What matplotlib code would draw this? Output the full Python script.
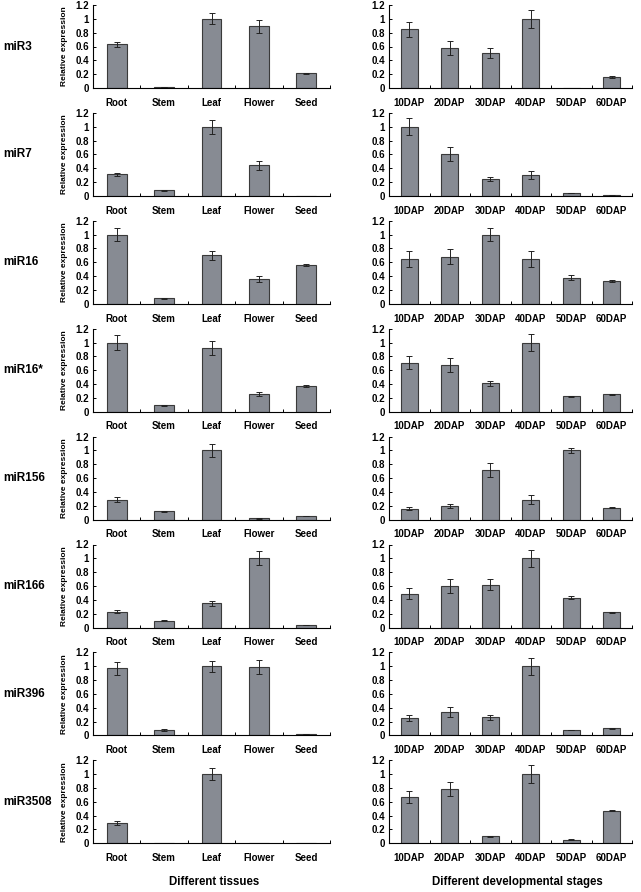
import numpy as np
import matplotlib
matplotlib.use("Agg")
import matplotlib.pyplot as plt

plt.rcParams['font.family'] = ['Liberation Sans', 'DejaVu Sans']
plt.rcParams['font.weight'] = 'bold'

genes = ['miR3', 'miR7', 'miR16', 'miR16*', 'miR156', 'miR166', 'miR396', 'miR3508']
tissues = ['Root', 'Stem', 'Leaf', 'Flower', 'Seed']
stages = ['10DAP', '20DAP', '30DAP', '40DAP', '50DAP', '60DAP']

# relative expression in tissues (mean, error)
tissue_vals = [
    [0.63, 0.01, 1.00, 0.89, 0.21],
    [0.31, 0.08, 1.00, 0.44, 0.003],
    [1.00, 0.08, 0.70, 0.36, 0.56],
    [1.00, 0.09, 0.92, 0.25, 0.37],
    [0.29, 0.12, 1.00, 0.02, 0.05],
    [0.23, 0.10, 0.35, 1.00, 0.04],
    [0.97, 0.08, 1.00, 0.99, 0.02],
    [0.29, 0.01, 1.00, 0.005, 0.01],
]
tissue_err = [
    [0.03, 0.0, 0.08, 0.10, 0.01],
    [0.02, 0.01, 0.10, 0.07, 0.0],
    [0.09, 0.01, 0.07, 0.04, 0.01],
    [0.11, 0.01, 0.10, 0.03, 0.01],
    [0.03, 0.01, 0.09, 0.005, 0.0],
    [0.02, 0.01, 0.04, 0.10, 0.0],
    [0.09, 0.01, 0.08, 0.10, 0.0],
    [0.03, 0.0, 0.09, 0.0, 0.0],
]

# relative expression at developmental stages (mean, error)
stage_vals = [
    [0.85, 0.58, 0.51, 1.00, 0.005, 0.16],
    [1.00, 0.60, 0.25, 0.30, 0.04, 0.01],
    [0.65, 0.68, 1.00, 0.65, 0.38, 0.33],
    [0.71, 0.67, 0.41, 1.00, 0.22, 0.25],
    [0.16, 0.20, 0.72, 0.29, 1.00, 0.17],
    [0.49, 0.60, 0.62, 1.00, 0.43, 0.22],
    [0.25, 0.34, 0.26, 1.00, 0.08, 0.10],
    [0.67, 0.79, 0.10, 1.00, 0.05, 0.47],
]
stage_err = [
    [0.11, 0.10, 0.07, 0.13, 0.0, 0.01],
    [0.12, 0.10, 0.03, 0.06, 0.005, 0.005],
    [0.12, 0.11, 0.09, 0.12, 0.04, 0.01],
    [0.09, 0.10, 0.04, 0.12, 0.01, 0.01],
    [0.02, 0.03, 0.10, 0.07, 0.04, 0.005],
    [0.08, 0.10, 0.08, 0.12, 0.02, 0.005],
    [0.04, 0.07, 0.04, 0.12, 0.005, 0.005],
    [0.09, 0.10, 0.01, 0.13, 0.005, 0.01],
]

W, H = 641, 892
fig = plt.figure(figsize=(W / 100, H / 100), dpi=100)

bar_color = '#878b93'
edge_color = '#3a3a3a'
yticks = [0, 0.2, 0.4, 0.6, 0.8, 1.0, 1.2]
ytick_labels = ['0', '0.2', '0.4', '0.6', '0.8', '1', '1.2']


def draw_panel(ax, cats, vals, errs, ylab):
    x = np.arange(len(cats))
    ax.bar(x, vals, width=0.42, color=bar_color, edgecolor=edge_color, linewidth=0.8,
           yerr=errs, error_kw=dict(ecolor='#222222', elinewidth=0.7, capsize=2, capthick=0.7))
    ax.set_xlim(-0.5, len(cats) - 0.5)
    ax.set_ylim(0, 1.2)
    ax.spines['top'].set_visible(False)
    ax.spines['right'].set_visible(False)
    ax.spines['left'].set_linewidth(0.8)
    ax.spines['bottom'].set_linewidth(0.8)
    ax.set_yticks(yticks)
    ax.set_yticklabels(ytick_labels, fontsize=7, fontweight='bold')
    ax.tick_params(axis='y', direction='in', length=2.5, width=0.7, pad=3)
    # category ticks sit between bars
    ax.set_xticks(np.arange(len(cats) + 1) - 0.5)
    ax.set_xticklabels([])
    ax.tick_params(axis='x', which='major', direction='in', length=2.5, width=0.7)
    ax.set_xticks(x, minor=True)
    ax.set_xticklabels(cats, minor=True, fontsize=7, fontweight='bold')
    ax.tick_params(axis='x', which='minor', length=0, pad=7)
    if ylab:
        ax.set_ylabel('Relative expression', fontsize=6, fontweight='bold', labelpad=5)


row_pitch = 107.9
ax_h = 83
for i, g in enumerate(genes):
    zero_y = 88 + row_pitch * i
    bottom = 1 - zero_y / H
    axl = fig.add_axes([93 / W, bottom, 237 / W, ax_h / H])
    draw_panel(axl, tissues, tissue_vals[i], tissue_err[i], True)
    axr = fig.add_axes([389 / W, bottom, 243 / W, ax_h / H])
    draw_panel(axr, stages, stage_vals[i], stage_err[i], False)
    fig.text(3 / W, 1 - (zero_y - ax_h / 2) / H, g, fontsize=8.5, fontweight='bold',
             ha='left', va='center')

fig.text(214 / W, 1 - 882 / H, 'Different tissues', fontsize=8.3, fontweight='bold',
         ha='center', va='center')
fig.text(517 / W, 1 - 882 / H, 'Different developmental stages', fontsize=8.3,
         fontweight='bold', ha='center', va='center')

fig.savefig('out.png', dpi=100)
